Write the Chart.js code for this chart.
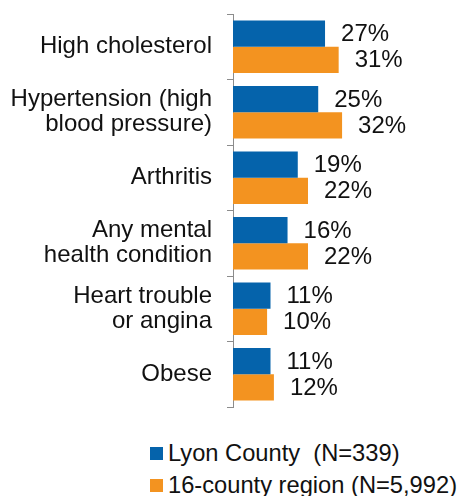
<!DOCTYPE html>
<html>
<head>
<meta charset="utf-8">
<script src="https://cdn.jsdelivr.net/npm/chart.js@4"></script>
<style>
  body { margin: 0; background: #fff; font-family: "Liberation Sans", Arial, sans-serif; }
  #wrap { position: relative; width: 459px; height: 496px; }
  #box { position: absolute; left: 0; top: 0; width: 459px; height: 420px; }
  #legend { position: absolute; left: 150px; top: 437px; font-size: 23.7px; color: #111; }
  #legend .row { height: 32px; line-height: 32px; white-space: pre; display: flex; align-items: center; }
  #legend .sw { width: 13px; height: 13px; margin-right: 5px; display: inline-block; }
</style>
</head>
<body>
<div id="wrap">
  <div id="box"><canvas id="chart"></canvas></div>
  <div id="legend"></div>
</div>
<script>
const categories = [
  'High cholesterol',
  ['Hypertension (high', 'blood pressure)'],
  'Arthritis',
  ['Any mental', 'health condition'],
  ['Heart trouble', 'or angina'],
  'Obese'
];
const lyonValues = [27, 25, 19, 16, 11, 11];
const regionValues = [31, 32, 22, 22, 10, 12];
const seriesNames = ['Lyon County  (N=339)', '16-county region (N=5,992)'];
const colors = ['#0563ab', '#f39320'];

// value labels right of each bar
const barLabels = {
  id: 'barLabels',
  afterDatasetsDraw(chart) {
    const ctx = chart.ctx;
    ctx.save();
    ctx.font = '24px "Liberation Sans", Arial, sans-serif';
    ctx.fillStyle = '#111';
    ctx.textAlign = 'left';
    ctx.textBaseline = 'middle';
    chart.data.datasets.forEach((ds, i) => {
      chart.getDatasetMeta(i).data.forEach((bar, j) => {
        ctx.fillText(ds.data[j] + '%', bar.x + 16, bar.y + 1);
      });
    });
    ctx.restore();
  }
};

const chart = new Chart(document.getElementById('chart'), {
  type: 'bar',
  data: {
    labels: categories,
    datasets: [
      { label: seriesNames[0], data: lyonValues, backgroundColor: colors[0] },
      { label: seriesNames[1], data: regionValues, backgroundColor: colors[1] }
    ]
  },
  options: {
    indexAxis: 'y',
    responsive: true,
    maintainAspectRatio: false,
    animation: false,
    layout: { padding: { top: 14, bottom: 13, right: 0, left: 0 } },
    datasets: { bar: { categoryPercentage: 0.8, barPercentage: 1.0 } },
    plugins: { legend: { display: false }, tooltip: { enabled: false } },
    scales: {
      x: { display: false, min: 0, max: 66.3 },
      y: {
        afterFit(scale) {
          scale.width = 233;
          scale.paddingTop = 0;
          scale.paddingBottom = 0;
        },
        border: { display: true, color: '#8c8c8c', width: 1 },
        grid: { offset: true, drawOnChartArea: false, drawTicks: true, tickLength: 6, color: '#8c8c8c' },
        ticks: {
          padding: 15,
          color: '#111',
          font: { family: '"Liberation Sans", Arial, sans-serif', size: 24, lineHeight: 1.05 }
        }
      }
    }
  },
  plugins: [barLabels]
});

// legend, one row per series
const legend = document.getElementById('legend');
chart.data.datasets.forEach(ds => {
  const row = document.createElement('div');
  row.className = 'row';
  const sw = document.createElement('span');
  sw.className = 'sw';
  sw.style.background = ds.backgroundColor;
  row.appendChild(sw);
  row.appendChild(document.createTextNode(ds.label));
  legend.appendChild(row);
});
</script>
</body>
</html>
